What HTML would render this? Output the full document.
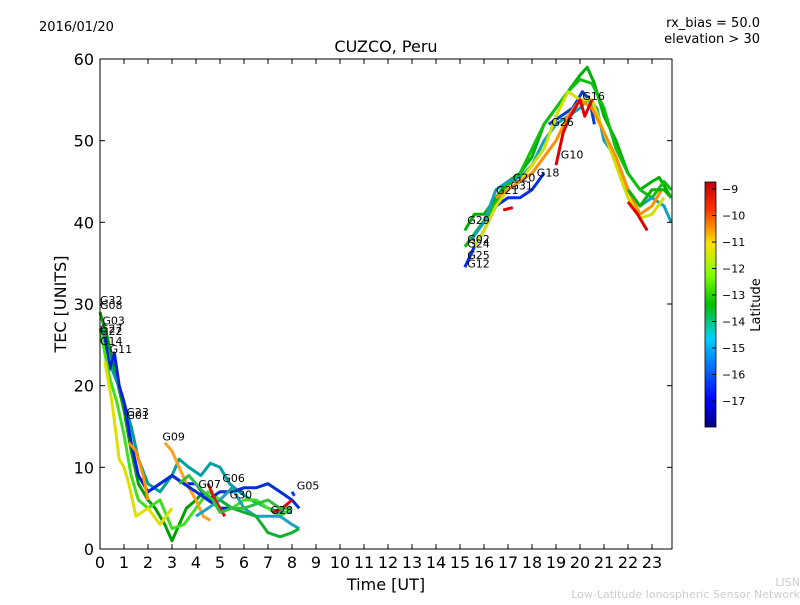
<!DOCTYPE html>
<html><head><meta charset="utf-8"><style>
body{margin:0;background:#fff;width:800px;height:600px;overflow:hidden}
svg{font-family:"DejaVu Sans","Liberation Sans",sans-serif}
</style></head><body>
<svg id="c" width="800" height="600">
<defs><linearGradient id="jet" x1="0" y1="1" x2="0" y2="0">
<stop offset="0" stop-color="#00007f"/><stop offset="0.11" stop-color="#0000ff"/><stop offset="0.36" stop-color="#00d0ff"/><stop offset="0.5" stop-color="#00c000"/><stop offset="0.62" stop-color="#7dff00"/><stop offset="0.75" stop-color="#ffe000"/><stop offset="0.89" stop-color="#ff3000"/><stop offset="1" stop-color="#c00000"/></linearGradient></defs>
<text x="39" y="31" font-size="13">2016/01/20</text>
<text x="760" y="27" font-size="13" text-anchor="end">rx_bias = 50.0</text>
<text x="760" y="43" font-size="13" text-anchor="end">elevation &gt; 30</text>
<text x="386" y="52" font-size="16" text-anchor="middle">CUZCO, Peru</text>
<text x="386" y="590" font-size="16" text-anchor="middle">Time [UT]</text>
<text x="66" y="304" font-size="16" text-anchor="middle" transform="rotate(-90 66 304)">TEC [UNITS]</text>
<text x="800" y="586" font-size="11" fill="#ccc" text-anchor="end">LISN</text>
<text x="800" y="598" font-size="11" fill="#ccc" text-anchor="end">Low-Latitude Ionospheric Sensor Network</text>
<g id="series"></g>
<g id="labels"></g>
<rect x="100" y="59" width="572" height="490" fill="none" stroke="#000"/>
<g id="axes"></g>
<rect x="705" y="182" width="11" height="245" fill="url(#jet)" stroke="#000" stroke-width="0.8"/>
<g id="cbar"></g>
<text x="760" y="305" font-size="13" text-anchor="middle" transform="rotate(-90 760 305)">Latitude</text>
</svg>
<script>
const xTicks=[0,1,2,3,4,5,6,7,8,9,10,11,12,13,14,15,16,17,18,19,20,21,22,23];
const yTicks=[0,10,20,30,40,50,60];
const cbTicks=[-9,-10,-11,-12,-13,-14,-15,-16,-17];
const seriesColors=["#00a000","#00a0a0","#0020e0","#40e020","#e0e000","#ff9000","#ffa020","#0030d0","#20a0c0","#10b030","#e00000","#e01010","#0040ff","#30c040",
"#00b000","#10c010","#0030e0","#0040d0","#10a0c0","#d0e000","#ff9000","#e00000","#e00000","#e00000","#10b000"];
const seriesPoints=[
[[0,29],[0.3,26],[0.6,22],[1,17],[1.3,12],[1.6,8],[2,6],[2.3,5],[2.7,3],[3,1],[3.3,3],[3.6,5],[4,6],[4.3,7],[4.6,6]],
[[0.1,27],[0.5,22],[0.9,19],[1.3,15],[1.6,11],[2,8],[2.5,7],[3,9],[3.3,11],[3.7,10],[4.2,9],[4.6,10.5],[5,10],[5.4,8],[5.8,7],[6.3,6],[7,5],[7.5,4.5],[8,4.5]],
[[0.2,26],[0.4,22],[0.6,24],[0.8,20],[1,18],[1.3,13],[1.6,9],[2,7],[2.5,8],[3,9],[3.5,8],[4,8],[4.5,6],[5,5],[5.5,5]],
[[0,27],[0.4,21],[0.7,18],[1,14],[1.3,9],[1.6,6],[2,5],[2.5,6],[3,2.5],[3.5,3],[4,5],[4.5,7],[5,6],[5.5,5],[6,6],[6.5,6],[7,5],[7.5,4],[8,5]],
[[0.2,23],[0.5,18],[0.8,11],[1,10],[1.2,8],[1.5,4],[2,5],[2.5,3],[3,5]],
[[1.2,13],[1.5,12],[1.8,9],[2,6]],
[[2.7,13],[3,12],[3.3,10],[3.6,8],[4,6],[4.3,4],[4.6,3.5]],
[[2.5,8],[3,9],[3.5,8],[4,7],[4.5,6],[5,7],[5.5,7],[6,7.5],[6.5,7.5],[7,8],[7.5,7],[8,6],[8.3,5]],
[[4,4],[4.5,5],[5,6],[5.5,7.5],[6,5],[6.5,4],[7,4],[7.5,4],[8,3],[8.3,2.5]],
[[5,6],[5.5,5],[6,4.5],[6.5,4],[7,2],[7.5,1.5],[8,2],[8.3,2.5]],
[[7.2,4.5],[7.6,5],[8,6]],
[[4.5,8],[4.8,6],[5,5],[5.2,4]],
[[8,7],[8.1,6.5]],
[[3.3,8],[3.7,9],[4,8],[4.3,7],[4.7,6],[5,4.5],[5.5,5],[6,5],[6.5,5.5],[7,6],[7.5,5],[8,5]],
[[15.2,39],[15.6,41],[16,41],[16.5,43],[17,45],[17.5,46],[18,48],[18.5,52],[19,54],[19.5,56],[20,58],[20.3,59],[20.6,57],[21,53],[21.5,50],[22,46],[22.5,44],[23,45],[23.3,45.5],[23.8,43]],
[[15.2,37],[15.7,39],[16.2,41],[16.8,44],[17.5,46],[18,49],[18.5,52],[19,54],[19.5,56],[20,57.5],[20.5,57],[21,54],[21.5,49],[22,46],[22.5,44],[23,43],[23.5,45],[23.8,44]],
[[15.2,34.5],[15.6,37],[16,39],[16.5,42],[17,43],[17.5,43],[18,44],[18.5,46]],
[[18.7,52],[19.2,53],[19.7,54],[20.1,56],[20.4,55],[20.6,52]],
[[15.5,38],[16,40],[16.5,44],[17,45],[17.5,45.5],[18,47],[18.5,50],[19,52],[19.5,53],[20,54],[20.3,55],[20.7,54],[21,50],[21.5,48],[22,44],[22.5,42],[23,43],[23.5,42],[23.8,40]],
[[15.6,37],[16,39],[16.5,42],[17,44],[17.5,45],[18,47],[18.5,49],[19,53],[19.5,56],[20,55],[20.5,55],[21,51],[21.5,47],[22,43],[22.5,40.5],[23,41],[23.5,43]],
[[16.5,43],[17,44],[17.5,45],[18,46],[18.5,48],[19,50],[19.5,53],[20,55],[20.5,54],[21,51],[21.5,48],[22,44],[22.5,41],[23,42],[23.4,44]],
[[19,47],[19.3,51],[19.6,53],[20,55],[20.2,53],[20.5,55]],
[[22,42.5],[22.4,41],[22.8,39]],
[[16.8,41.5],[17.2,41.8]],
[[22,44],[22.5,42],[23,44],[23.5,44],[23.8,43]]
];
const labelNames=["G32","G08","G03","G27","G22","G14","G11","G23","G01","G09","G07","G06","G30","G28","G05","G29","G02","G24","G25","G12","G21","G20","G31","G18","G10","G26","G16"];
const labelT=[0,0,0.1,0,0,0,0.4,1.1,1.1,2.6,4.1,5.1,5.4,7.1,8.2,15.3,15.3,15.3,15.3,15.3,16.5,17.2,17.1,18.2,19.2,18.8,20.1];
const labelV=[30,29.4,27.5,26.5,26.2,25,24,16.3,15.9,13.3,7.5,8.2,6.2,4.3,7.3,39.8,37.5,36.9,35.5,34.5,43.5,45,44,45.6,47.8,51.8,55];
const NS='http://www.w3.org/2000/svg';
const X=t=>100+24*t, Y=v=>549-490*v/60;
const CB=l=>189+(l+9)*(401-189)/(-8);
function mk(tag,attrs,parent){const e=document.createElementNS(NS,tag);for(const k in attrs)e.setAttribute(k,attrs[k]);parent.appendChild(e);return e;}
const sg=document.getElementById('series');
seriesPoints.forEach((pts,i)=>{
  const p=mk('polyline',{points:pts.map(q=>X(q[0]).toFixed(1)+','+Y(q[1]).toFixed(1)).join(' '),fill:'none',stroke:seriesColors[i],'stroke-width':3,'stroke-linejoin':'round'},sg);
  
  
});
const lg=document.getElementById('labels');
labelNames.forEach((n,i)=>{
  const t=mk('text',{x:X(labelT[i]),y:Y(labelV[i]),'font-size':11},lg);t.textContent=n;
  
  
});
const ax=document.getElementById('axes');
xTicks.forEach(v=>{
  const l=mk('line',{x1:X(v),x2:X(v),y1:549,y2:544,stroke:'#000'},ax);
  
  
  mk('line',{x1:X(v),x2:X(v),y1:59,y2:64,stroke:'#000'},ax);
  const t=mk('text',{x:X(v),y:568,'font-size':16,'text-anchor':'middle'},ax);t.textContent=v;
  
  
});
yTicks.forEach(v=>{
  const l=mk('line',{x1:100,x2:105,y1:Y(v),y2:Y(v),stroke:'#000'},ax);
  
  
  mk('line',{x1:667,x2:672,y1:Y(v),y2:Y(v),stroke:'#000'},ax);
  const t=mk('text',{x:94,y:Y(v)+6,'font-size':16,'text-anchor':'end'},ax);t.textContent=v;
  
  
});
const cb=document.getElementById('cbar');
cbTicks.forEach(v=>{
  mk('line',{x1:716,x2:712,y1:CB(v),y2:CB(v),stroke:'#000'},cb);
  const t=mk('text',{x:722,y:CB(v)+4,'font-size':11},cb);t.textContent='\u2212'+Math.abs(v);
  
  
});
</script>
</body></html>
